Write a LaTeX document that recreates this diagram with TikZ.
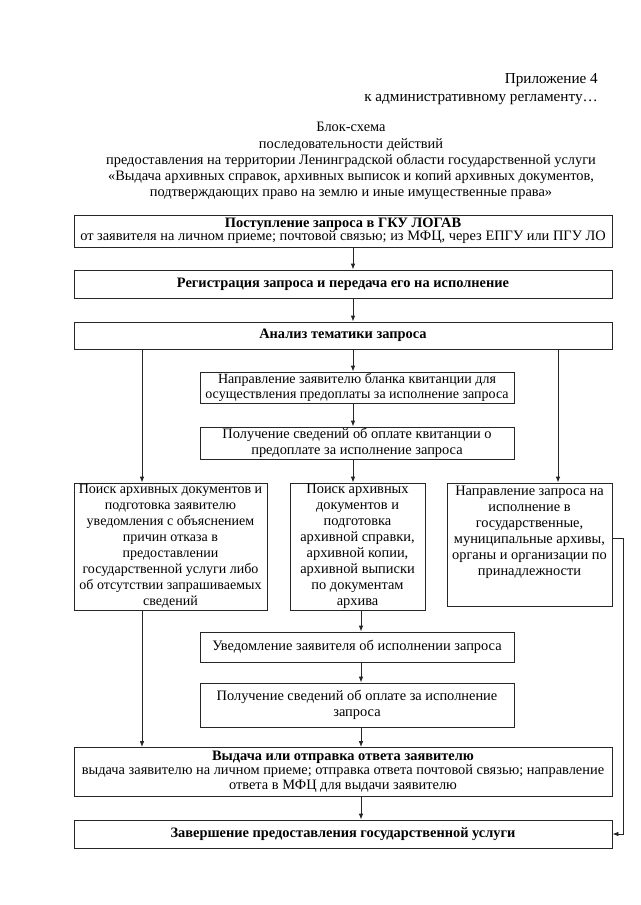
\documentclass[tikz,border=0pt]{standalone}
\usepackage{fontspec}
\setmainfont{Liberation Serif}
\usetikzlibrary{arrows.meta}
\begin{document}
\begin{tikzpicture}[x=1pt,y=-1pt,
  every node/.style={font=\fontsize{14.4}{16}\selectfont},
  box/.style={draw=black!85, line width=0.8pt, align=center, inner sep=0.5pt},
  txt/.style={inner sep=0pt, align=center},
  hdr/.style={inner sep=0pt, font=\fontsize{15.2}{17}\selectfont},
  arr/.style={draw=black!85, line width=0.8pt, -{Latex[length=6pt,width=4.5pt]}},
  ln/.style={draw=black!85, line width=0.8pt}]
\useasboundingbox (0,0) rectangle (640,905);
% header
\node[hdr, anchor=base east] (h1) at (598,83) {Приложение 4};
\node[hdr, anchor=base east] (h2) at (598,101) {к административному регламенту…};
\node[txt, anchor=base] (t1) at (351,131) {Блок-схема};
\node[txt, anchor=base] (t2) at (351,148) {последовательности действий};
\node[txt, anchor=base] (t3) at (351,164) {предоставления на территории Ленинградской области государственной услуги};
\node[txt, anchor=base] (t4) at (351,180) {«Выдача архивных справок, архивных выписок и копий архивных документов,};
\node[txt, anchor=base] (t5) at (351,196) {подтверждающих право на землю и иные имущественные права»};
% boxes
\node[box, minimum width=538pt, minimum height=32pt, inner ysep=1.5pt] (b1) at (343,231)
  {\textbf{Поступление запроса в ГКУ ЛОГАВ}\\[-2.5pt]от заявителя на личном приеме; почтовой связью; из МФЦ, через ЕПГУ или ПГУ ЛО};
\node[box, minimum width=538pt, minimum height=28pt] (b2) at (343,284)
  {\textbf{Регистрация запроса и передача его на исполнение}};
\node[box, minimum width=538pt, minimum height=27pt] (b3) at (343,335.5)
  {\textbf{Анализ тематики запроса}};
\node[box, minimum width=314pt, minimum height=31pt, font=\fontsize{14}{16}\selectfont] (b4) at (357,387.5)
  {Направление заявителю бланка квитанции для\\[-1pt]осуществления предоплаты за исполнение запроса};
\node[box, minimum width=314pt, minimum height=32pt] (b5) at (357,443)
  {Получение сведений об оплате квитанции о\\предоплате за исполнение запроса};
\node[box, minimum width=193pt, minimum height=127pt, font=\fontsize{14}{16}\selectfont] (b6) at (170.5,546.5)
  {Поиск архивных документов и\\подготовка заявителю\\уведомления с объяснением\\причин отказа в\\предоставлении\\государственной услуги либо\\об отсутствии запрашиваемых\\сведений};
\node[box, minimum width=135pt, minimum height=127pt] (b7) at (357.5,546.5)
  {Поиск архивных\\документов и\\подготовка\\архивной справки,\\архивной копии,\\архивной выписки\\по документам\\архива};
\node[box, minimum width=165pt, minimum height=123pt] (b8) at (529.5,544.5) {};
\node[txt, anchor=north] (b8t) at ([yshift=-3pt]b8.north)
  {Направление запроса на\\исполнение в\\государственные,\\муниципальные архивы,\\органы и организации по\\принадлежности};
\node[box, minimum width=314pt, minimum height=30pt] (b9) at (357,647)
  {Уведомление заявителя об исполнении запроса};
\node[box, minimum width=314pt, minimum height=44pt] (b10) at (357,705)
  {Получение сведений об оплате за исполнение\\запроса};
\node[box, minimum width=538pt, minimum height=49pt, inner ysep=1.5pt] (b11) at (343,772)
  {\textbf{Выдача или отправка ответа заявителю}\\[-2pt]выдача заявителю на личном приеме; отправка ответа почтовой связью; направление\\[-1.5pt]ответа в МФЦ для выдачи заявителю};
\node[box, minimum width=538pt, minimum height=28pt] (b12) at (343,834)
  {\textbf{Завершение предоставления государственной услуги}};
% connector columns
\coordinate (cu) at (353,0);
\coordinate (cd) at (361,0);
\coordinate (cl) at (142,0);
\coordinate (cr) at (558,0);
\coordinate (rj) at (623,538);
% connectors
\draw[arr] (b1.south -| cu) -- (b2.north -| cu);
\draw[arr] (b2.south -| cu) -- (b3.north -| cu);
\draw[arr] (b3.south -| cu) -- (b4.north -| cu);
\draw[arr] (b4.south -| cu) -- (b5.north -| cu);
\draw[arr] (b5.south -| cu) -- (b7.north -| cu);
\draw[arr] (b3.south -| cl) -- (b6.north -| cl);
\draw[arr] (b3.south -| cr) -- (b8.north -| cr);
\draw[arr] (b6.south -| cl) -- (b11.north -| cl);
\draw[arr] (b7.south -| cd) -- (b9.north -| cd);
\draw[arr] (b9.south -| cd) -- (b10.north -| cd);
\draw[arr] (b10.south -| cd) -- (b11.north -| cd);
\draw[arr] (b11.south -| cd) -- (b12.north -| cd);
\draw[arr] (b8.east |- rj) -- (rj) -- (rj |- b12.east) -- (b12.east);
\end{tikzpicture}
\end{document}
